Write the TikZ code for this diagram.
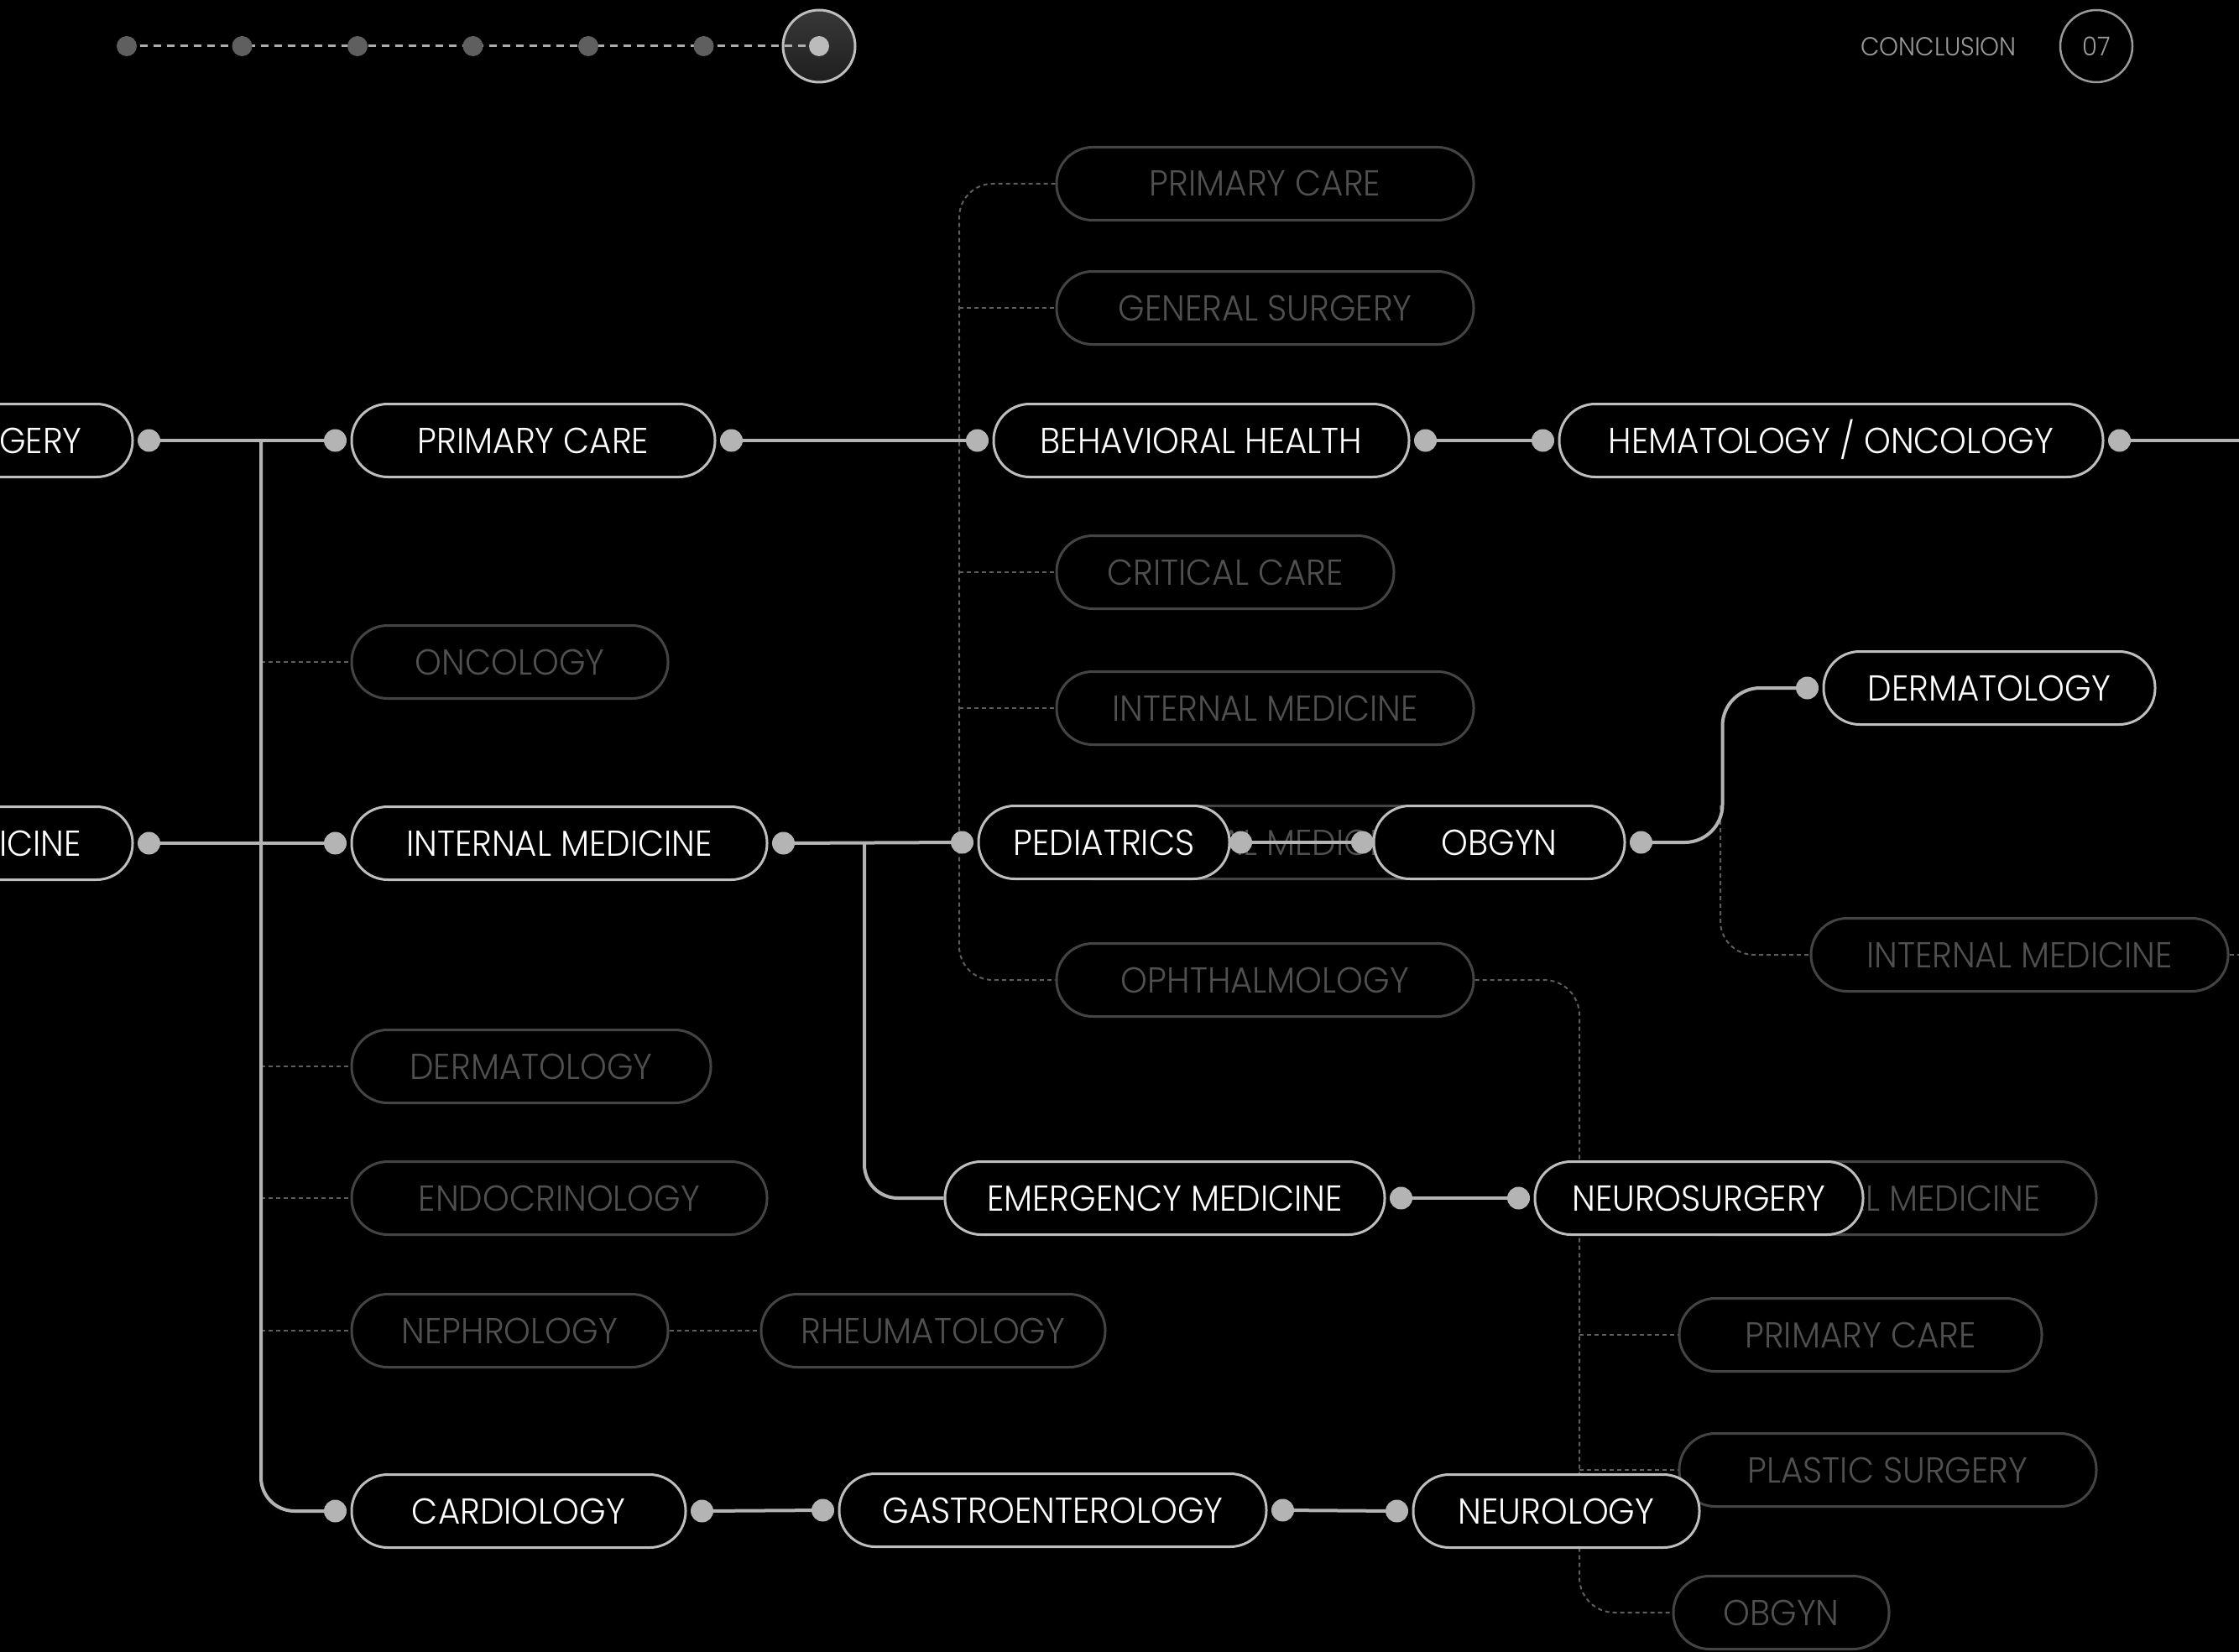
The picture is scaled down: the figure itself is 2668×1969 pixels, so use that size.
\documentclass[tikz,border=0pt]{standalone}
\usepackage{fontspec}
\setmainfont{Poppins Light}[FakeStretch=0.94]
\usetikzlibrary{calc}
\definecolor{lineg}{HTML}{B4B4B4}
\definecolor{mainb}{HTML}{BEBEBE}
\definecolor{fadeb}{HTML}{444444}
\definecolor{fadet}{HTML}{505050}
\definecolor{dashc}{HTML}{5E5E5E}
\definecolor{progdot}{HTML}{5F5F5F}
\definecolor{progdash}{HTML}{ADADAD}
\definecolor{headt}{HTML}{9A9A9A}
\tikzset{
 mainnode/.style={draw=mainb, line width=3pt, fill=black, rounded corners=43pt, minimum height=87pt, inner sep=0pt, text=white, font=\fontsize{43}{43}\selectfont, text height=30pt, text depth=0pt},
 fadenode/.style={mainnode, draw=fadeb, text=fadet},
 dotc/.style={circle, fill=lineg, minimum size=27pt, inner sep=0pt},
 conn/.style={draw=lineg, line width=4pt},
 dashl/.style={draw=dashc, line width=2pt, dash pattern=on 5pt off 4pt},
 progd/.style={circle, fill=progdot, minimum size=24pt, inner sep=0pt},
}
\begin{document}
\begin{tikzpicture}[x=1pt,y=-1pt]
\fill[black] (0,0) rectangle (2668,1969);
\useasboundingbox (0,0) rectangle (2668,1969);
\clip (0,0) rectangle (2668,1969);

% ---------- header ----------
\foreach \i/\x in {1/151,2/288.5,3/426,4/563.5,5/701,6/838.5} \coordinate (p\i) at (\x,55);
\node[circle, draw=mainb, line width=3pt, top color=black!78, bottom color=black!88, minimum size=86pt, inner sep=0pt] (p7) at (976,55) {};
\draw[progdash, line width=3pt, dash pattern=on 9pt off 7pt] (p1) -- (p7.center);
\foreach \i in {1,...,6} \node[progd] at (p\i) {};
\node[circle, fill=lineg!90!white, minimum size=24pt, inner sep=0pt] (p7c) at (p7.center) {};
\node[text=headt, font=\fontsize{31}{31}\selectfont, inner sep=0pt] (concl) at (2310,56) {CONCLUSION};
\node[circle, draw=headt, line width=2.5pt, minimum size=86pt, inner sep=0pt, text=headt, font=\fontsize{31}{31}\selectfont] (num) at (2498,55) {07};

% ---------- faded nodes ----------
\node[fadenode, minimum width=497pt] (pcg) at (1507.5,219) {PRIMARY CARE};
\node[fadenode, minimum width=497pt] (gsg) at (1507.5,367) {GENERAL SURGERY};
\node[fadenode, minimum width=402pt] (ccg) at (1460,682) {CRITICAL CARE};
\node[fadenode, minimum width=497pt] (img) at (1507.5,844) {INTERNAL MEDICINE};
\node[fadenode, minimum width=497pt] (imh) at (1507.5,1004) {INTERNAL MEDICINE};
\node[fadenode, minimum width=497pt] (oph) at (1507.5,1168) {OPHTHALMOLOGY};
\node[fadenode, minimum width=377pt] (onc) at (607.5,789) {ONCOLOGY};
\node[fadenode, minimum width=428pt] (dermg) at (633,1271) {DERMATOLOGY};
\node[fadenode, minimum width=495pt] (endo) at (666.5,1428) {ENDOCRINOLOGY};
\node[fadenode, minimum width=377pt] (neph) at (607.5,1586) {NEPHROLOGY};
\node[fadenode, minimum width=410pt] (rheum) at (1112,1586) {RHEUMATOLOGY};
\node[fadenode, minimum width=497pt] (imr) at (2406.5,1138) {INTERNAL MEDICINE};
\node[fadenode, minimum width=497pt] (imn) at (2249.5,1428) {INTERNAL MEDICINE};
\node[fadenode, minimum width=432pt] (pcg2) at (2217,1591) {PRIMARY CARE};
\node[fadenode, minimum width=497pt] (psg) at (2249.5,1752) {PLASTIC SURGERY};
\node[fadenode, minimum width=257pt] (obg2) at (2122.5,1922) {OBGYN};

% ---------- dashed links ----------
\coordinate (lv) at (1143,0);
\coordinate (rv) at (1882,0);
\coordinate (sv) at (311,0);
\draw[dashl, rounded corners=40pt] (pcg.west) -| (lv |- oph.west) -- (oph.west);
\foreach \n in {gsg,ccg,img} \draw[dashl] (lv |- \n.west) -- (\n.west);
\draw[dashl, rounded corners=42pt] (oph.east) -| (rv |- obg2.west) -- (obg2.west);
\foreach \n in {pcg2,psg} \draw[dashl] (rv |- \n.west) -- (\n.west);
\foreach \n in {onc,dermg,endo,neph} \draw[dashl] (sv |- \n.west) -- (\n.west);
\draw[dashl] (neph.east) -- (rheum.west);
\coordinate (dv) at (2050,960);
\draw[dashl, rounded corners=40pt] (dv) |- (imr.west);
\coordinate (imrend) at (2690,1138);
\draw[dashl] (imr.east) -- (imrend);

% ---------- main nodes ----------
\node[mainnode, minimum width=471pt] (gery) at (-77.5,525) {GENERAL SURGERY};
\node[mainnode, minimum width=433pt] (pc) at (635.5,525) {PRIMARY CARE};
\node[mainnode, minimum width=495pt] (bh) at (1431.5,525) {BEHAVIORAL HEALTH};
\node[mainnode, minimum width=648pt] (ho) at (2182,525) {HEMATOLOGY / ONCOLOGY};
\node[mainnode, minimum width=487pt] (icine) at (-85.5,1005) {INTERNAL MEDICINE};
\node[mainnode, minimum width=495pt] (im) at (666.5,1005) {INTERNAL MEDICINE};
\node[mainnode, minimum width=299pt] (ped) at (1315.5,1004) {PEDIATRICS};
\node[mainnode, minimum width=299pt] (ob) at (1786.5,1004) {OBGYN};
\node[mainnode, minimum width=395pt] (derm) at (2370.5,820) {DERMATOLOGY};
\node[mainnode, minimum width=524pt] (em) at (1388,1428) {EMERGENCY MEDICINE};
\node[mainnode, minimum width=391pt] (ns) at (2024.5,1428) {NEUROSURGERY};
\node[mainnode, minimum width=398pt] (card) at (618,1801) {CARDIOLOGY};
\node[mainnode, minimum width=509pt] (gas) at (1254.5,1800) {GASTROENTEROLOGY};
\node[mainnode, minimum width=341pt] (neu) at (1854.5,1801) {NEUROLOGY};

% ---------- dots ----------
\foreach \n in {pc,bh,ho,im,ped,derm,ns,card,gas,neu} \node[dotc] (\n-l) at ([xshift=-18pt]\n.west) {};
\foreach \n in {gery,pc,bh,ho,icine,im,ob,em,card,gas} \node[dotc] (\n-r) at ([xshift=18pt]\n.east) {};
\node[dotc] (ped-r) at ([xshift=12pt]ped.east) {};
\node[dotc] (ob-l) at ([xshift=-12pt]ob.west) {};

% ---------- solid links ----------
\draw[conn] (gery-r) -- (pc-l);
\draw[conn] (pc-r) -- (bh-l);
\draw[conn] (bh-r) -- (ho-l);
\coordinate (hoend) at (2690,525);
\draw[conn] (ho-r) -- (hoend);
\coordinate (j1) at (sv |- pc-l);
\draw[conn, rounded corners=40pt] (j1) |- (card-l);
\draw[conn] (icine-r) -- (im-l);
\draw[conn] (im-r) -- (ped-l);
\coordinate (j2) at (1030,1005);
\draw[conn, rounded corners=40pt] (j2) |- (em.west);
\draw[conn] (ped-r) -- (ob-l);
\draw[conn, rounded corners=45pt] (ob-r) -- ++(97,0) |- (derm-l);
\draw[conn] (em-r) -- (ns-l);
\draw[conn] (card-r) -- (gas-l);
\draw[conn] (gas-r) -- (neu-l);
\end{tikzpicture}
\end{document}
